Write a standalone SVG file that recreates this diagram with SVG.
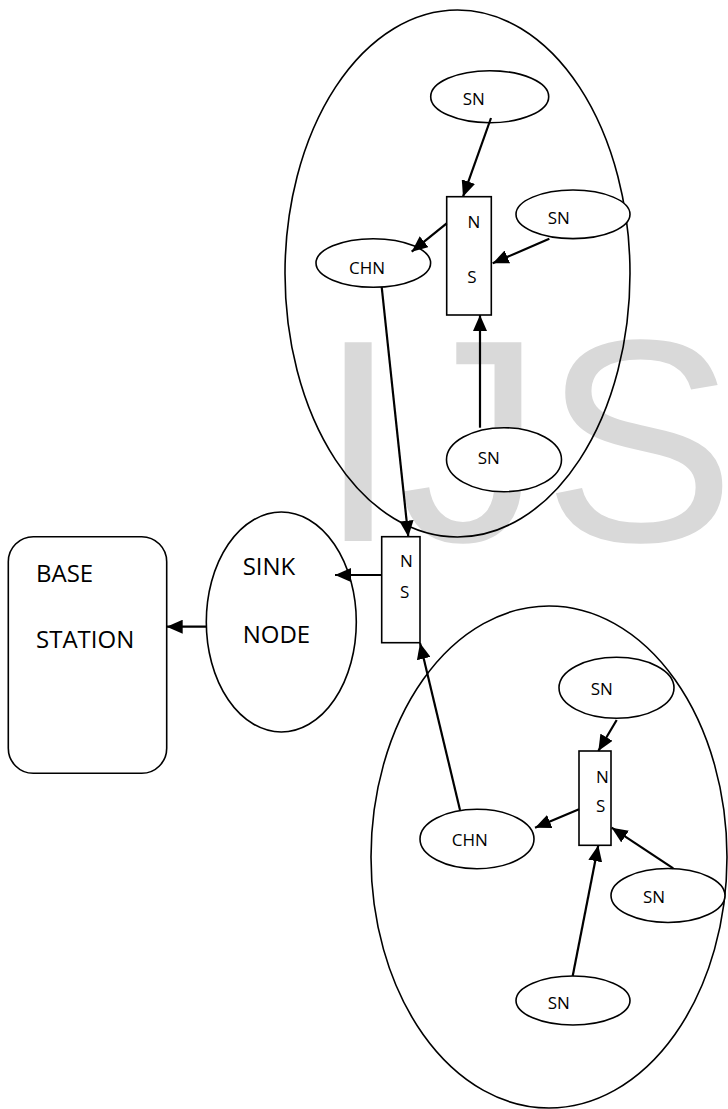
<svg xmlns="http://www.w3.org/2000/svg" width="728" height="1109" viewBox="0 0 728 1109">
<style>
.wm{font-family:"Liberation Sans",Arial,sans-serif;font-size:289px;fill:#d9d9d9}
.big{fill:none;stroke:#000;stroke-width:1.6}
.node{fill:#fff;stroke:#000;stroke-width:1.6}
.t{font-family:"Open Sans","Liberation Sans",sans-serif;font-size:17px;fill:#000}
.tl{font-family:"Open Sans","Liberation Sans",sans-serif;font-size:24px;fill:#000}
.c{stroke:#000;stroke-width:2.2;fill:none;marker-end:url(#ah)}
</style>
<defs>
<marker id="ah" markerUnits="userSpaceOnUse" markerWidth="17" markerHeight="14" refX="16" refY="7" orient="auto">
<path d="M0,0 L16,7 L0,14 z" fill="#000"/>
</marker>
</defs>
<rect width="728" height="1109" fill="#fff"/>
<text class="wm" x="318" y="541">IJS</text>
<g id="cluster1"><ellipse class="big" cx="457.5" cy="273.5" rx="172.5" ry="263.5"/></g>
<g id="cluster2"><ellipse class="big" cx="549" cy="857" rx="178" ry="251"/></g>
<g id="base-station"><rect class="node" x="8.3" y="536.7" width="158.4" height="236.6" rx="25"/>
<text class="tl" x="36" y="582">BASE</text><text class="tl" x="36" y="648">STATION</text></g>
<g id="sink-node"><ellipse class="node" cx="281.3" cy="622" rx="75" ry="110"/>
<text class="tl" x="242.7" y="575">SINK</text><text class="tl" x="242.7" y="643">NODE</text></g>
<g id="ns-main"><rect class="node" x="381.7" y="536.7" width="38.3" height="106"/>
<text class="t" x="400" y="567.3">N</text><text class="t" x="400" y="598.3">S</text></g>
<g id="sn1"><ellipse class="node" cx="489.7" cy="96.7" rx="59" ry="26"/><text class="t" x="462.7" y="105.3">SN</text></g>
<g id="ns1"><rect class="node" x="446.7" y="196.7" width="44.6" height="118.3"/>
<text class="t" x="467.5" y="228.3">N</text><text class="t" x="467.3" y="283.3">S</text></g>
<g id="sn2"><ellipse class="node" cx="573" cy="214.3" rx="57" ry="24.3"/><text class="t" x="547.7" y="224">SN</text></g>
<g id="chn1"><ellipse class="node" cx="373.3" cy="263" rx="57.3" ry="24.3"/><text class="t" x="349" y="274.3">CHN</text></g>
<g id="sn3"><ellipse class="node" cx="504" cy="459.7" rx="57.5" ry="32"/><text class="t" x="477.7" y="464.3">SN</text></g>
<g id="sn4"><ellipse class="node" cx="616.5" cy="687.8" rx="57.5" ry="30.5"/><text class="t" x="590.7" y="695">SN</text></g>
<g id="ns2"><rect class="node" x="579" y="751" width="32" height="94.3"/>
<text class="t" x="596" y="782.7">N</text><text class="t" x="596" y="812.3">S</text></g>
<g id="chn2"><ellipse class="node" cx="477" cy="839" rx="57" ry="29.7"/><text class="t" x="451.7" y="845.7">CHN</text></g>
<g id="sn5"><ellipse class="node" cx="668" cy="895.5" rx="57" ry="27"/><text class="t" x="643" y="903">SN</text></g>
<g id="sn6"><ellipse class="node" cx="573" cy="1000.5" rx="57" ry="24.5"/><text class="t" x="547.7" y="1009.3">SN</text></g>
<g id="connectors">
<line class="c" x1="491" y1="118" x2="463" y2="196.7"/>
<line class="c" x1="446.7" y1="223.3" x2="411.7" y2="251.7"/>
<line class="c" x1="549.3" y1="238.7" x2="492.7" y2="263.3"/>
<line class="c" x1="480" y1="427.7" x2="480" y2="315"/>
<line class="c" x1="381.7" y1="287" x2="408.3" y2="536.7"/>
<line class="c" x1="381.7" y1="575" x2="335" y2="575"/>
<line class="c" x1="206" y1="626.7" x2="166.7" y2="626.7"/>
<line class="c" x1="460" y1="810" x2="420" y2="643"/>
<line class="c" x1="616.7" y1="720" x2="598.3" y2="751"/>
<line class="c" x1="579" y1="809.3" x2="535" y2="827.7"/>
<line class="c" x1="673.3" y1="868.3" x2="611.7" y2="827.7"/>
<line class="c" x1="572.7" y1="976" x2="598.3" y2="845.3"/>
</g>
</svg>
